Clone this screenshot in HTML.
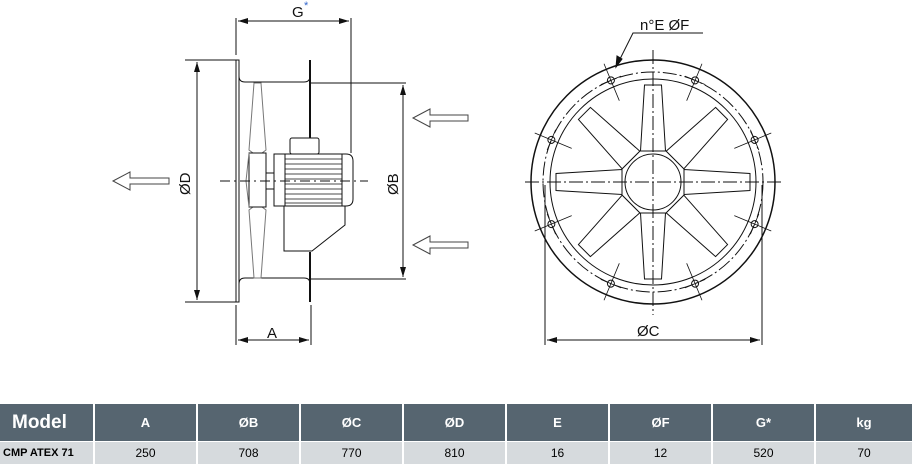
<!DOCTYPE html>
<html><head><meta charset="utf-8"><style>
body{margin:0;background:#fff;width:912px;height:464px;overflow:hidden;font-family:"Liberation Sans",sans-serif}
svg{position:absolute;left:0;top:0}
table{position:absolute;left:0;top:404px;width:912px;border-collapse:collapse;table-layout:fixed;font-family:"Liberation Sans",sans-serif}
th{background:#566570;color:#fff;height:37px;font-size:13px;font-weight:bold;border-left:2px solid #fff;padding:0}
td{background:#d6dadd;height:22px;font-size:12px;text-align:center;border-left:2px solid #fff;border-top:1px solid #fff;padding:0}
th:first-child,td:first-child{border-left:none}
th:first-child{font-size:19px;text-align:left;padding-left:12px}
td:first-child{font-weight:bold;font-size:11px;text-align:left;padding-left:3px}
</style></head><body>
<svg width="912" height="464" viewBox="0 0 912 464" fill="none" stroke="#111" stroke-width="1">
<defs><marker id="a" viewBox="0 0 10 6" refX="10" refY="3" markerWidth="10" markerHeight="6" orient="auto-start-reverse" markerUnits="userSpaceOnUse"><path d="M0 0L10 3L0 6z" fill="#111" stroke="none"/></marker></defs>
<rect x="236" y="60" width="3" height="242"/>
<path d="M239 60V76Q239 82 245 82H304Q310 82 310 76V60"/>
<path d="M239 302V284Q239 278 245 278H304Q310 278 310 284V302"/>
<path d="M310 60V138M310 252V302" stroke-width="2"/>
<path d="M310 83H406M310 279H406M185 60H236M185 302H236"/>
<path d="M197 62V300" marker-start="url(#a)" marker-end="url(#a)"/>
<path d="M403 85V277" marker-start="url(#a)" marker-end="url(#a)"/>
<path d="M236 18V55M351 18V153M236 305V345M311 305V345"/>
<path d="M238 21H349" marker-start="url(#a)" marker-end="url(#a)"/>
<path d="M238 340H309" marker-start="url(#a)" marker-end="url(#a)"/>
<path d="M254 83H261L266 150L262 153H253L249 150Z" stroke="#777"/>
<path d="M253 207H262L266 210L261 278H254L249 210Z" stroke="#777"/>
<rect x="249" y="153" width="17" height="54"/>
<path d="M249 153L246 181L249 207" stroke="#777"/>
<rect x="266" y="173" width="8" height="16"/>
<path d="M274 154H346Q353 154 353 161V199Q353 206 346 206H274Z"/>
<path d="M285 154V206M342 154V206"/>
<path d="M285 159H342M285 164H342M285 169H342M285 174H342M285 179H342M285 184H342M285 189H342M285 194H342M285 199H342M285 203H342" stroke-width="0.7"/>
<rect x="290" y="138" width="29" height="16" rx="2"/>
<path d="M284 206V251H312L345 225V206"/>
<path d="M220 181H368" stroke-dasharray="10 4 2 4"/>
<path d="M113 181L130 172V178H169V184H130V190Z" stroke="#444"/>
<path d="M413 118L430 109V115H468V121H430V127Z" stroke="#444"/>
<path d="M413 245L430 236V242H468V248H430V254Z" stroke="#444"/>
<text x="292" y="17" font-size="15" fill="#111" stroke="none">G</text><text x="304" y="9" font-size="11" fill="#36c" stroke="none">*</text>
<text x="267" y="338" font-size="15" fill="#111" stroke="none">A</text>
<text transform="translate(190 195) rotate(-90)" font-size="15" fill="#111" stroke="none">ØD</text>
<text transform="translate(398 195) rotate(-90)" font-size="15" fill="#111" stroke="none">ØB</text>
<g transform="translate(653 182)">
<circle r="122" stroke-width="1.5"/>
<circle r="110" stroke-dasharray="14 3 2 3"/>
<circle r="103"/>
<g id="bl"><path d="M-8.5 -97H8.5L12.5 -31H-12.5Z"/></g>
<use href="#bl" transform="rotate(45)"/><use href="#bl" transform="rotate(90)"/><use href="#bl" transform="rotate(135)"/><use href="#bl" transform="rotate(180)"/><use href="#bl" transform="rotate(225)"/><use href="#bl" transform="rotate(270)"/><use href="#bl" transform="rotate(315)"/>
<polygon points="13,-31 31,-13 31,13 13,31 -13,31 -31,13 -31,-13 -13,-31" fill="#fff"/>
<circle r="28"/>
<g id="bh" transform="rotate(22.5)"><circle cy="-110" r="3.5"/><path d="M-11 -110H11M0 -128V-88" stroke-width="0.8"/></g>
<use href="#bh" transform="rotate(45)"/><use href="#bh" transform="rotate(90)"/><use href="#bh" transform="rotate(135)"/><use href="#bh" transform="rotate(180)"/><use href="#bh" transform="rotate(225)"/><use href="#bh" transform="rotate(270)"/><use href="#bh" transform="rotate(315)"/>
<path d="M-128 0H128M0 -132V133" stroke-dasharray="14 3 2 3"/>
</g>
<path d="M545 185V345M762 185V345"/>
<path d="M547 340H760" marker-start="url(#a)" marker-end="url(#a)"/>
<text x="637" y="336" font-size="15" fill="#111" stroke="none">ØC</text>
<path d="M703 33H633L616 67"/>
<path d="M616 67L617 56L622 59Z" fill="#111"/>
<text x="640" y="30" font-size="15" fill="#111" stroke="none">n°E  ØF</text>
</svg>
<table>
<colgroup><col style="width:94px"><col style="width:103px"><col style="width:103px"><col style="width:103px"><col style="width:103px"><col style="width:103px"><col style="width:103px"><col style="width:103px"><col style="width:97px"></colgroup>
<tr><th>Model</th><th>A</th><th>ØB</th><th>ØC</th><th>ØD</th><th>E</th><th>ØF</th><th>G*</th><th>kg</th></tr>
<tr><td>CMP ATEX 71</td><td>250</td><td>708</td><td>770</td><td>810</td><td>16</td><td>12</td><td>520</td><td>70</td></tr></table>
</body></html>
